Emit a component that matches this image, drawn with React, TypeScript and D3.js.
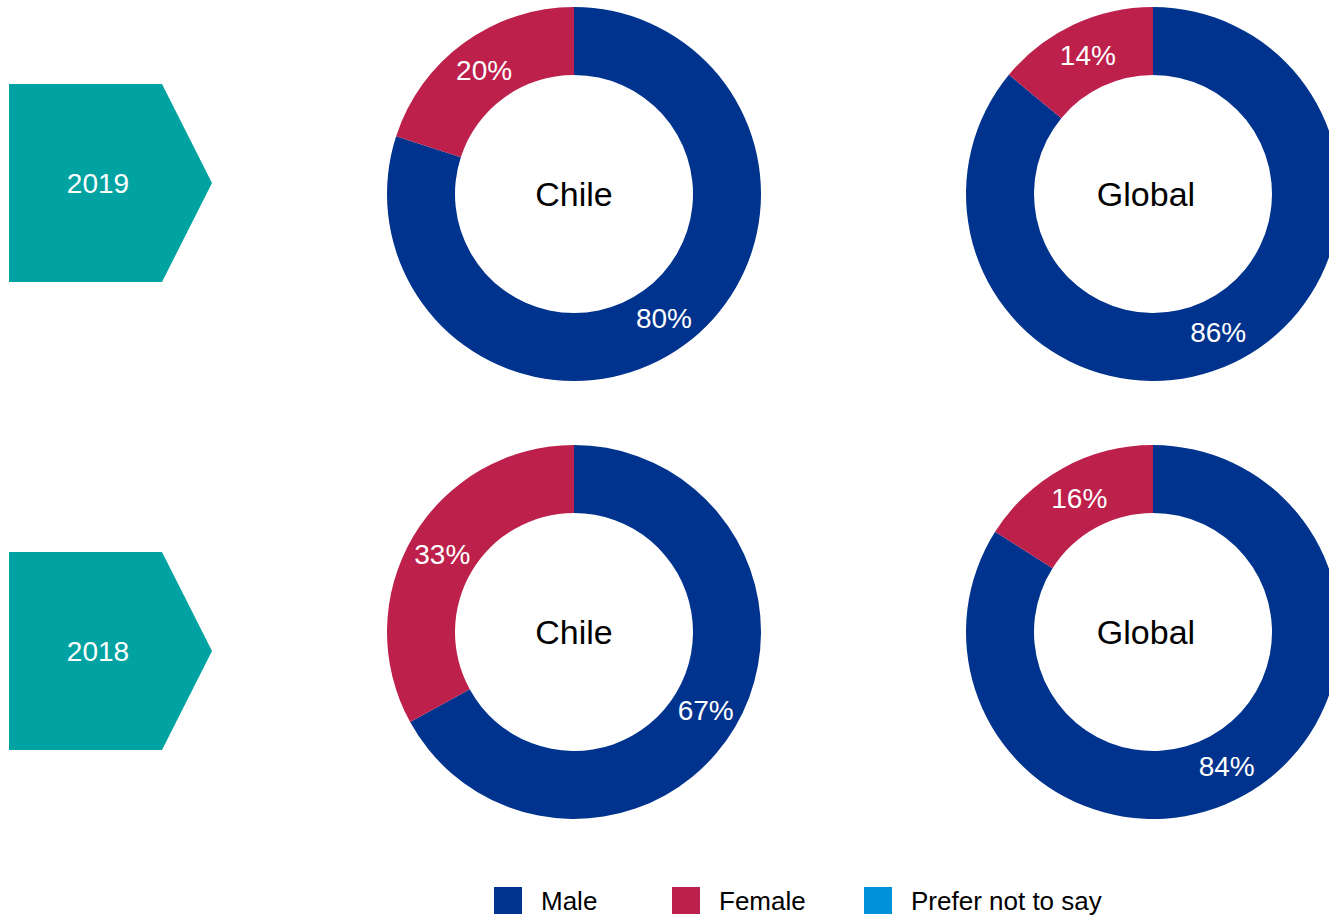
import React, { useEffect, useRef } from 'react';
import * as d3 from 'd3';

// categories and values
const groups = ['Male', 'Female', 'Prefer not to say'];
const years = ['2019', '2018'];
const regions = ['Chile', 'Global'];
const chile2019 = [80, 20, 0];
const global2019 = [86, 14, 0];
const chile2018 = [67, 33, 0];
const global2018 = [84, 16, 0];

const colors = ['#00338D', '#BC204B', '#0091DA'];
const FONT = '"Liberation Sans", Arial, Helvetica, sans-serif';

const App: React.FC = () => {
  const ref = useRef<SVGSVGElement | null>(null);

  useEffect(() => {
    if (!ref.current) return;
    const width = 1329;
    const height = 917;
    const svg = d3.select(ref.current);
    svg.selectAll('*').remove();

    const outer = 187;
    const inner = 119;

    const x = d3.scalePoint<string>().domain(regions).range([574, 1153]);
    const y = d3.scalePoint<string>().domain(years).range([194, 632]);
    const arrowY = d3.scalePoint<string>().domain(years).range([183, 651]);
    const color = d3.scaleOrdinal<string, string>().domain(groups).range(colors);

    const charts = [
      { year: '2019', region: 'Chile', values: chile2019 },
      { year: '2019', region: 'Global', values: global2019 },
      { year: '2018', region: 'Chile', values: chile2018 },
      { year: '2018', region: 'Global', values: global2018 },
    ];

    const pie = d3.pie<number>().sort(null).value(d => d);
    const arc = d3.arc<d3.PieArcDatum<number>>().innerRadius(inner).outerRadius(outer);

    // year arrows
    years.forEach(yr => {
      const cy = arrowY(yr)!;
      const h = 99;
      const g = svg.append('g');
      g.append('path')
        .attr('d', `M9,${cy - h}L162,${cy - h}L212,${cy}L162,${cy + h}L9,${cy + h}Z`)
        .attr('fill', '#00A3A1');
      g.append('text')
        .attr('x', 98)
        .attr('y', cy)
        .attr('dy', '0.35em')
        .attr('text-anchor', 'middle')
        .attr('fill', '#fff')
        .attr('font-family', FONT)
        .attr('font-size', 28)
        .text(yr);
    });

    charts.forEach(c => {
      const g = svg.append('g')
        .attr('transform', `translate(${x(c.region)}, ${y(c.year)})`);
      const arcs = pie(c.values);
      g.selectAll('path')
        .data(arcs)
        .enter()
        .append('path')
        .attr('d', arc)
        .attr('fill', (_d, i) => color(groups[i]));

      g.selectAll('text.pct')
        .data(arcs.filter(d => d.data > 0))
        .enter()
        .append('text')
        .attr('class', 'pct')
        .attr('transform', d => `translate(${arc.centroid(d)})`)
        .attr('dy', '0.35em')
        .attr('text-anchor', 'middle')
        .attr('fill', '#fff')
        .attr('font-family', FONT)
        .attr('font-size', 28)
        .text(d => `${d.data}%`);

      g.append('text')
        .attr('x', c.region === 'Global' ? -7 : 0)
        .attr('y', 0)
        .attr('dy', '0.36em')
        .attr('text-anchor', 'middle')
        .attr('fill', '#000')
        .attr('font-family', FONT)
        .attr('font-size', 34)
        .text(c.region);
    });

    // legend
    const legendX = [494, 672, 864];
    const legend = svg.append('g').attr('transform', 'translate(0, 901)');
    groups.forEach((name, i) => {
      legend.append('rect')
        .attr('x', legendX[i])
        .attr('y', -14)
        .attr('width', 28)
        .attr('height', 27)
        .attr('fill', color(name));
      legend.append('text')
        .attr('x', legendX[i] + 47)
        .attr('y', 0)
        .attr('dy', '0.35em')
        .attr('fill', '#000')
        .attr('font-family', FONT)
        .attr('font-size', 26)
        .text(name);
    });

    svg.attr('width', width).attr('height', height);
  }, []);

  return (
    <div style={{ position: 'absolute', left: 0, top: 0, background: '#fff' }}>
      <svg ref={ref} width={1329} height={917} style={{ display: 'block' }} />
    </div>
  );
};

export default App;
